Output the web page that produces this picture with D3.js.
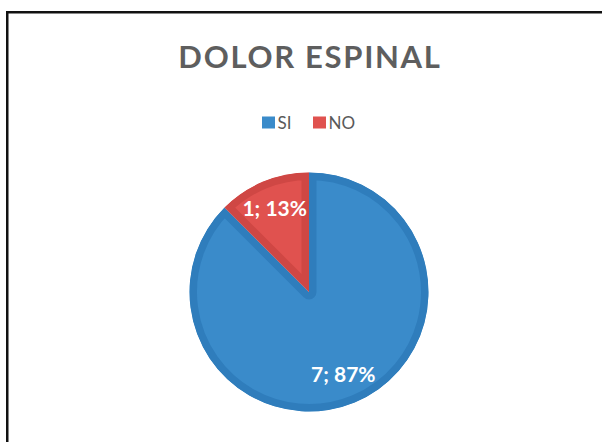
<!DOCTYPE html>
<html>
<head>
<meta charset="utf-8">
<script src="https://cdn.jsdelivr.net/npm/d3@7"></script>
<style>
	body { margin: 0; background: #fff; }
	svg { display: block; }
</style>
</head>
<body>
<div id="chartView"></div>
<script>

var title = "DOLOR ESPINAL";
var categories = ["SI", "NO"];
var values = [7, 1];
var percentLabels = ["87%", "13%"];
var fillColors = ["#3a8bca", "#e0524f"];
var edgeColors = ["#2f7dbc", "#cf4744"];

PieChart = function(){

	this.svg = null;
	this.init();
}

PieChart.prototype.init = function(){

	this.svg = d3.select(PieChart.div)
				.append("svg")
				.attr("width", PieChart.width)
				.attr("height", PieChart.height);

	this.svg.append("rect")
		.attr("width", PieChart.width)
		.attr("height", PieChart.height)
		.attr("fill", "#fff");

	//frame, runs off the right and bottom edges
	this.svg.append("rect")
		.attr("x", 7.25)
		.attr("y", 12.25)
		.attr("width", 640)
		.attr("height", 480)
		.attr("fill", "none")
		.attr("stroke", "#111")
		.attr("stroke-width", 2.5);
};

PieChart.prototype.drawTitle = function(){

	this.svg.append("text")
		.attr("x", 310)
		.attr("y", 68)
		.attr("text-anchor", "middle")
		.attr("font-family", "Lato, 'Open Sans', sans-serif")
		.attr("font-weight", "bold")
		.attr("font-size", 31)
		.attr("letter-spacing", 1.7)
		.attr("fill", "#5e5e5e")
		.text(title);
};

PieChart.prototype.drawLegend = function(){

	var xs = [262, 313];
	var legend = this.svg.append("g");

	categories.forEach(function(name, i){
		legend.append("rect")
			.attr("x", xs[i])
			.attr("y", 116.5)
			.attr("width", 13)
			.attr("height", 12)
			.attr("fill", fillColors[i]);
		legend.append("text")
			.attr("x", xs[i] + 15.5)
			.attr("y", 129)
			.attr("font-family", "Lato, 'Open Sans', sans-serif")
			.attr("font-size", 17)
			.attr("fill", "#595959")
			.text(name);
	});
};

PieChart.prototype.drawPie = function(){

	var cx = 309, cy = 292, r = 119.5;
	var g = this.svg.append("g").attr("transform", "translate(" + cx + "," + cy + ")");

	var pie = d3.pie().sort(null)(values);
	var arc = d3.arc().innerRadius(0).outerRadius(r);
	var labelArc = d3.arc().innerRadius(r * 0.75).outerRadius(r * 0.75);

	var defs = this.svg.append("defs");

	pie.forEach(function(d, i){
		var id = "slice" + i;
		defs.append("clipPath").attr("id", id)
			.append("path").attr("d", arc(d));

		//inset darker band: stroke clipped to the slice itself
		g.append("path")
			.attr("d", arc(d))
			.attr("fill", fillColors[i])
			.attr("stroke", edgeColors[i])
			.attr("stroke-width", 15)
			.attr("stroke-linejoin", "round")
			.attr("clip-path", "url(#" + id + ")");
	});

	pie.forEach(function(d, i){
		var c = labelArc.centroid(d);
		g.append("text")
			.attr("x", c[0])
			.attr("y", c[1] + 7)
			.attr("text-anchor", "middle")
			.attr("font-family", "Lato, 'Open Sans', sans-serif")
			.attr("font-weight", "bold")
			.attr("font-size", 21)
			.attr("fill", "#fff")
			.text(values[i] + "; " + percentLabels[i]);
	});
};

PieChart.prototype.render = function(){

	this.drawTitle();
	this.drawLegend();
	this.drawPie();
};

PieChart.width = 602;
PieChart.height = 442;
PieChart.div = "#chartView";

var chart = new PieChart();
chart.render();
</script>
</body>
</html>
